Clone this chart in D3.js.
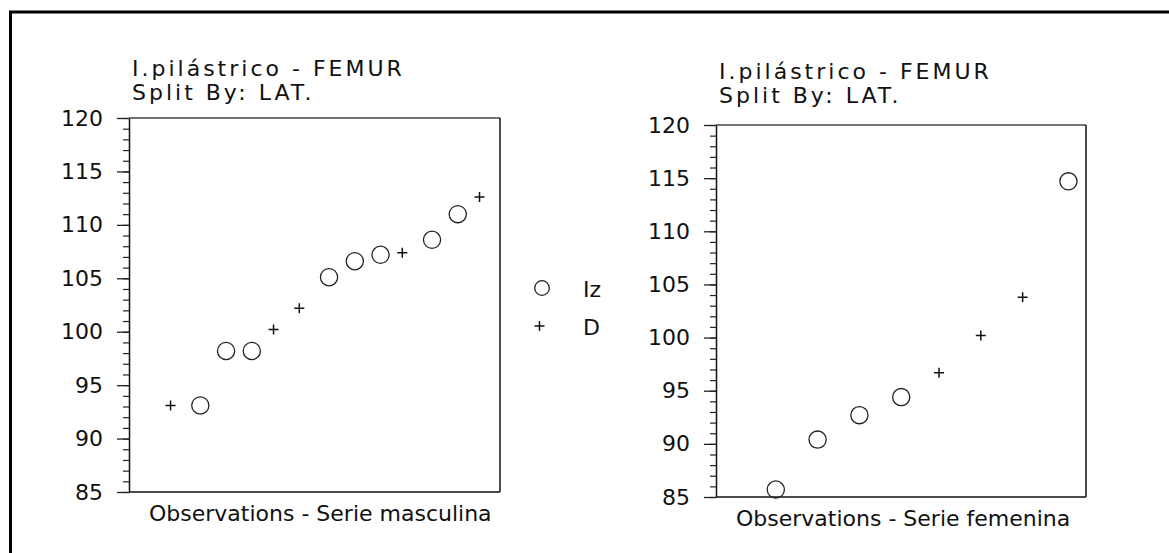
<!DOCTYPE html>
<html>
<head>
<meta charset="utf-8">
<script src="https://cdn.jsdelivr.net/npm/d3@7"></script>
<style>
  body { margin: 0; background: #fff; }
  svg { display: block; font-family: "DejaVu Sans", Verdana, sans-serif; }
  .tick text { font-size: 22px; fill: #111; }
</style>
</head>
<body>
<svg id="chart" width="1169" height="553"></svg>
<script>
// values
const titleLines = ['I.pilástrico - FEMUR', 'Split By: LAT.'];
const yTicks = [85, 90, 95, 100, 105, 110, 115, 120];

// Serie masculina
const maleIzObs = [2, 3, 4, 7, 8, 9, 11, 12];
const maleIzVal = [93.1, 98.2, 98.2, 105.1, 106.6, 107.2, 108.6, 111.0];
const maleDObs = [1, 5, 6, 10, 13];
const maleDVal = [93.1, 100.2, 102.2, 107.4, 112.6];

// Serie femenina
const femIzObs = [1, 2, 3, 4, 8];
const femIzVal = [85.7, 90.4, 92.7, 94.4, 114.7];
const femDObs = [5, 6, 7];
const femDVal = [96.7, 100.2, 103.8];

const legendLabels = ['Iz', 'D'];

const svg = d3.select('#chart');

// outer frame (runs off the right and bottom edge)
svg.append('rect')
    .attr('x', 10.5).attr('y', 12)
    .attr('width', 1300).attr('height', 700)
    .attr('fill', 'none').attr('stroke', '#000').attr('stroke-width', 3);

const plusPath = 'M-5,0H5M0,-5V5';

function drawPanel(cfg) {
    const g = svg.append('g');

    const x = d3.scaleLinear().domain(cfg.xDomain).range([cfg.left, cfg.right]);
    const y = d3.scaleLinear().domain([85, 120]).range([cfg.bottom, cfg.top]);

    // frame
    g.append('line').attr('x1', cfg.left).attr('x2', cfg.right)
        .attr('y1', cfg.top).attr('y2', cfg.top)
        .attr('stroke', '#444').attr('stroke-width', 1.3);
    g.append('line').attr('x1', cfg.right).attr('x2', cfg.right)
        .attr('y1', cfg.top).attr('y2', cfg.bottom)
        .attr('stroke', '#111').attr('stroke-width', 1.5);
    g.append('line').attr('x1', cfg.left).attr('x2', cfg.right)
        .attr('y1', cfg.bottom).attr('y2', cfg.bottom)
        .attr('stroke', '#111').attr('stroke-width', 1.5);

    // minor ticks
    g.append('g')
        .attr('transform', `translate(${cfg.left},0)`)
        .call(d3.axisLeft(y).tickValues(d3.range(85, 121, 1)).tickSize(6).tickFormat(''))
        .call(a => a.select('.domain').remove())
        .selectAll('line').attr('stroke', '#222').attr('stroke-width', 1.2);

    // major ticks + labels
    const major = g.append('g')
        .attr('transform', `translate(${cfg.left},0)`)
        .call(d3.axisLeft(y).tickValues(yTicks).tickSize(12).tickPadding(14).tickSizeOuter(0));
    major.select('.domain').attr('stroke', '#111').attr('stroke-width', 1.5);
    major.selectAll('line').attr('stroke', '#222').attr('stroke-width', 1.3);
    major.selectAll('text').attr('font-family', '"DejaVu Sans", Verdana, sans-serif');

    // title (two lines, spaced-out lettering)
    g.append('text')
        .attr('x', cfg.left + 3).attr('y', cfg.titleY)
        .attr('font-size', 22).attr('letter-spacing', 3).attr('fill', '#111')
        .selectAll('tspan')
        .data(titleLines)
        .enter()
        .append('tspan')
        .attr('x', cfg.left + 3)
        .attr('dy', (d, i) => i === 0 ? 0 : 24)
        .text(d => d);

    // x label
    g.append('text')
        .attr('x', cfg.left + 20).attr('y', cfg.bottom + 29)
        .attr('font-size', 22).attr('fill', '#111')
        .text(cfg.xLabel);

    // Iz circles
    g.append('g').selectAll('circle')
        .data(d3.zip(cfg.izObs, cfg.izVal))
        .enter()
        .append('circle')
        .attr('cx', d => x(d[0]))
        .attr('cy', d => y(d[1]))
        .attr('r', 8.6)
        .attr('fill', 'none').attr('stroke', '#222').attr('stroke-width', 1.3);

    // D pluses (glyph sits a few px left of the circle column)
    g.append('g').selectAll('path')
        .data(d3.zip(cfg.dObs, cfg.dVal))
        .enter()
        .append('path')
        .attr('transform', d => `translate(${x(d[0]) - 4},${y(d[1])})`)
        .attr('d', plusPath)
        .attr('stroke', '#111').attr('stroke-width', 1.5);
}

drawPanel({
    left: 129, right: 500, top: 118, bottom: 492,
    xDomain: [-0.77, 13.64], titleY: 76,
    xLabel: 'Observations - Serie masculina',
    izObs: maleIzObs, izVal: maleIzVal, dObs: maleDObs, dVal: maleDVal
});

drawPanel({
    left: 716, right: 1086, top: 125, bottom: 497,
    xDomain: [-0.43, 8.42], titleY: 79,
    xLabel: 'Observations - Serie femenina',
    izObs: femIzObs, izVal: femIzVal, dObs: femDObs, dVal: femDVal
});

// legend
const legend = svg.append('g');
const legendY = d3.scalePoint().domain(legendLabels).range([288, 326]);

legend.append('circle')
    .attr('cx', 542).attr('cy', legendY('Iz')).attr('r', 7.3)
    .attr('fill', 'none').attr('stroke', '#222').attr('stroke-width', 1.3);
legend.append('path')
    .attr('transform', `translate(539.5,${legendY('D')})`)
    .attr('d', plusPath)
    .attr('stroke', '#111').attr('stroke-width', 1.5);
legend.selectAll('text')
    .data(legendLabels)
    .enter()
    .append('text')
    .attr('x', 583)
    .attr('y', d => legendY(d) + 9)
    .attr('font-size', 22).attr('fill', '#111')
    .text(d => d);
</script>
</body>
</html>
